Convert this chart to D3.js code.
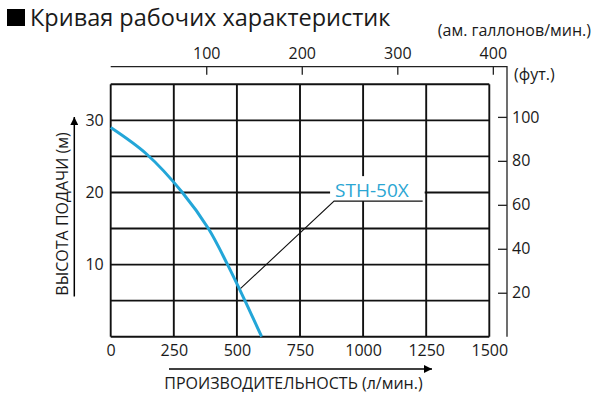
<!DOCTYPE html>
<html>
<head>
<meta charset="utf-8">
<script src="https://cdn.jsdelivr.net/npm/d3@7"></script>
<style>
  body { margin: 0; background: #fff; }
  text { font-family: "Open Sans", "Noto Sans", sans-serif; fill: #1a1a1a; }
</style>
</head>
<body>
<script>
// performance curve of the pump (flow l/min -> head m)
var flowLpm = [0, 143, 284, 387, 463, 532, 598];
var headM   = [29, 25.3, 20, 15, 10, 5, 0];

var xTicks = [0, 250, 500, 750, 1000, 1250, 1500];
var yGrid = [0, 5, 10, 15, 20, 25, 30, 35];
var yLabels = [10, 20, 30];
var gpmTicks = [100, 200, 300, 400];
var ftTicks = [20, 40, 60, 80, 100];

var modelName = "STH-50X";
var labelAt = [885, 18.8];    // start of the underline (l/min, m)
var labelEnd = 1236;          // end of the underline
var pointer = [515, 6.7];     // where the leader touches the curve

var LPM_PER_GPM = 3.785, FT_PER_M = 3.2808;

var svg = d3.select("body").append("svg").attr("width", 600).attr("height", 400);

var x = d3.scaleLinear().domain([0, 1500]).range([110.7, 489.3]);
var y = d3.scaleLinear().domain([0, 35]).range([336.7, 84.3]);
var xGal = d3.scaleLinear().domain([0, 1500 / LPM_PER_GPM]).range(x.range());
var yFt = d3.scaleLinear().domain([0, 35 * FT_PER_M]).range(y.range());

var topY = 66.7, rightX = 507;

// title
svg.append("rect").attr("x", 7).attr("y", 9).attr("width", 18).attr("height", 17).style("fill", "#000");
svg.append("text").attr("x", 30).attr("y", 26).style("font-size", "23.5px").text("Кривая рабочих характеристик");

// grid
var grid = svg.append("g").style("stroke", "#111").style("stroke-width", 1.9);
grid.selectAll(".v").data(xTicks).enter().append("line")
  .attr("x1", d => x(d)).attr("x2", d => x(d)).attr("y1", y(0)).attr("y2", y(35));
grid.selectAll(".h").data(yGrid).enter().append("line")
  .attr("y1", d => y(d)).attr("y2", d => y(d)).attr("x1", x(0)).attr("x2", x(1500));

// bottom and left labels (no tick marks)
var gx = svg.append("g").attr("transform", "translate(0," + y(0) + ")")
  .call(d3.axisBottom(x).tickValues(xTicks).tickSize(0).tickPadding(8).tickFormat(d3.format("d")));
var gy = svg.append("g").attr("transform", "translate(" + x(0) + ",0)")
  .call(d3.axisLeft(y).tickValues(yLabels).tickSize(0).tickPadding(7));
[gx, gy].forEach(function(g) {
  g.select(".domain").remove();
  g.selectAll("text").style("font-size", "16px").style("font-family", null).attr("fill", null);
});

// top (gallons) and right (feet) axes
var gt = svg.append("g").attr("transform", "translate(0," + topY + ")")
  .call(d3.axisTop(xGal).tickValues(gpmTicks).tickSize(-8).tickPadding(8));
var gr = svg.append("g").attr("transform", "translate(" + rightX + ",0)")
  .call(d3.axisRight(yFt).tickValues(ftTicks).tickSize(-9).tickPadding(5));
[gt, gr].forEach(function(g) {
  g.select(".domain").remove();
  g.selectAll("line").attr("stroke", "#222").attr("stroke-width", 1.3);
  g.selectAll("text").style("font-size", "16px").style("font-family", null).attr("fill", null);
});
svg.append("path")
  .attr("d", "M" + x(0) + "," + topY + "H" + rightX + "V" + y(0))
  .style("fill", "none").style("stroke", "#222").style("stroke-width", 1.3);

svg.append("text").attr("x", 591).attr("y", 36).attr("text-anchor", "end")
  .style("font-size", "16px").text("(ам. галлонов/мин.)");
svg.append("text").attr("x", 514).attr("y", 80)
  .style("font-size", "16px").text("(фут.)");

// axis titles with arrows
svg.append("defs").append("marker").attr("id", "arr")
  .attr("viewBox", "0 0 10 10").attr("refX", 10).attr("refY", 5)
  .attr("markerWidth", 18).attr("markerHeight", 8).attr("markerUnits", "userSpaceOnUse")
  .attr("orient", "auto").append("path").attr("d", "M0,0L10,5L0,10Z").style("fill", "#000");

svg.append("line").attr("x1", 74.3).attr("x2", 74.3).attr("y1", 296.5).attr("y2", 117)
  .style("stroke", "#000").style("stroke-width", 1.5).attr("marker-end", "url(#arr)");
svg.append("text").attr("transform", "translate(68,214) rotate(-90)").attr("text-anchor", "middle")
  .style("font-size", "16px").text("ВЫСОТА ПОДАЧИ (м)");

svg.append("line").attr("x1", 169).attr("x2", 432).attr("y1", 369).attr("y2", 369)
  .style("stroke", "#000").style("stroke-width", 1.5).attr("marker-end", "url(#arr)");
svg.append("text").attr("x", 293.5).attr("y", 389).attr("text-anchor", "middle")
  .style("font-size", "16px").text("ПРОИЗВОДИТЕЛЬНОСТЬ (л/мин.)");

// curve
var line = d3.line().x(d => x(d[0])).y(d => y(d[1])).curve(d3.curveCatmullRom);
svg.append("path").datum(d3.zip(flowLpm, headM)).attr("d", line)
  .style("fill", "none").style("stroke", "#23a6d8").style("stroke-width", 3);

// model label with leader
svg.append("rect").attr("x", x(labelAt[0]) - 4).attr("y", y(labelAt[1]) - 25)
  .attr("width", x(labelEnd) - x(labelAt[0]) + 6).attr("height", 25).style("fill", "#fff");
svg.append("text").attr("x", x(labelAt[0]) + 1).attr("y", y(labelAt[1]) - 4.5)
  .style("font-size", "19px").style("fill", "#2ba6d3").text(modelName);
svg.append("path")
  .attr("d", d3.line()([[x(labelEnd), y(labelAt[1])], [x(labelAt[0]), y(labelAt[1])], [x(pointer[0]), y(pointer[1])]]))
  .style("fill", "none").style("stroke", "#111").style("stroke-width", 1.1);
</script>
</body>
</html>
